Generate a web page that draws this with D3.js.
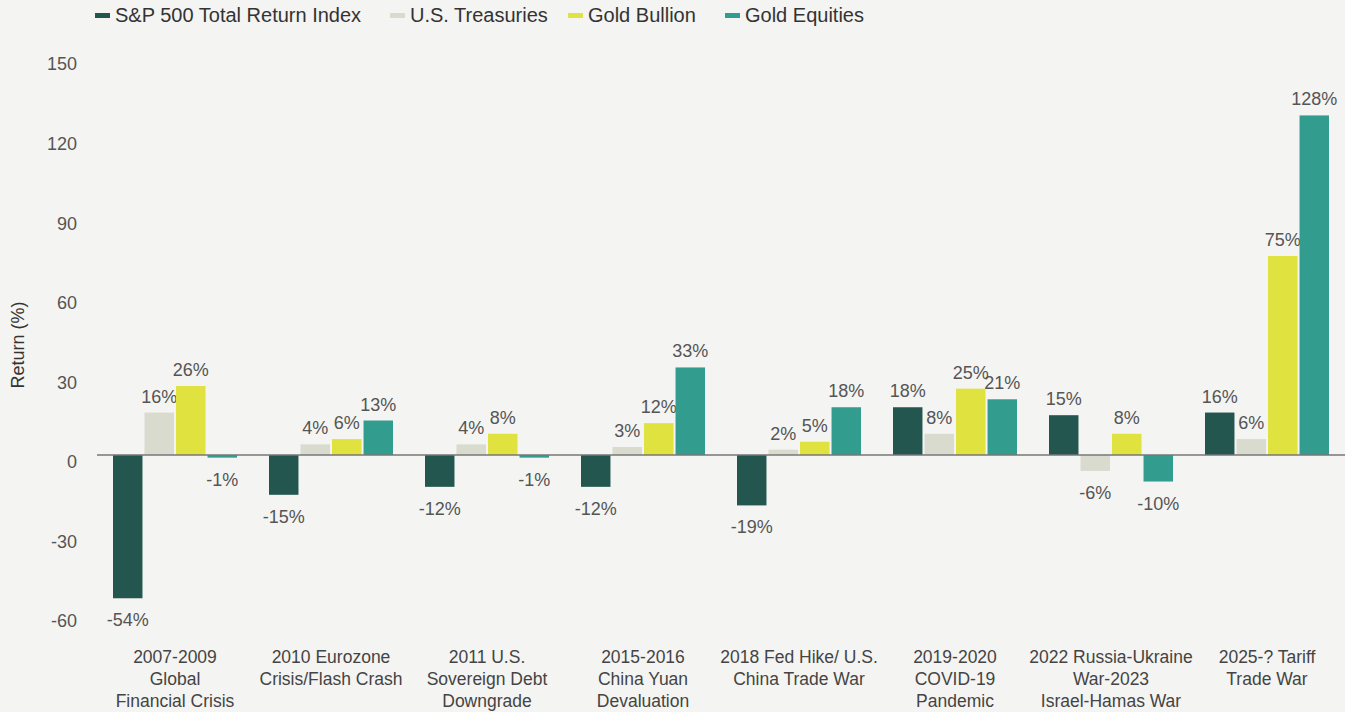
<!DOCTYPE html>
<html><head><meta charset="utf-8">
<script src="https://cdn.jsdelivr.net/npm/d3@7"></script>
<style>
html,body{margin:0;padding:0;background:#f4f4f2;}
svg{display:block;font-family:"Liberation Sans","Arial",sans-serif;}
</style></head>
<body><svg id="c" width="1345" height="712"></svg>
<script>
const categories = [
  ["2007-2009","Global","Financial Crisis"],
  ["2010 Eurozone","Crisis/Flash Crash"],
  ["2011 U.S.","Sovereign Debt","Downgrade"],
  ["2015-2016","China Yuan","Devaluation"],
  ["2018 Fed Hike/ U.S.","China Trade War"],
  ["2019-2020","COVID-19","Pandemic"],
  ["2022 Russia-Ukraine","War-2023","Israel-Hamas War"],
  ["2025-? Tariff","Trade War"]
];
const seriesNames = ["S&P 500 Total Return Index","U.S. Treasuries","Gold Bullion","Gold Equities"];
const sp500 = [-54,-15,-12,-12,-19,18,15,16];
const treasuries = [16,4,4,3,2,8,-6,6];
const goldBullion = [26,6,8,12,5,25,8,75];
const goldEquities = [-1,13,-1,33,18,21,-10,128];
const yTicks = [-60,-30,0,30,60,90,120,150];
const colors = ["#22564f","#d9dbcf","#dfe23f","#329c8f"];

const series = [sp500,treasuries,goldBullion,goldEquities];
const svg = d3.select("#c");
const left = 97, right = 1345;
const yScale = d3.scaleLinear().domain([-60,150]).range([455+60*2.653, 455-150*2.653]);
const x0 = d3.scaleBand().domain(d3.range(categories.length)).range([left,right]).paddingInner(0).paddingOuter(0);
const x1 = d3.scaleBand().domain(d3.range(4)).range([0,124]).paddingInner(0.065);
const groupOffset = (x0.bandwidth()-124)/2;

// y tick labels
svg.append("g").selectAll("text").data(yTicks).join("text")
  .attr("x",77).attr("y",d=>yScale(d)+7).attr("dy","0.35em")
  .attr("text-anchor","end").attr("font-size",18).attr("fill","#555")
  .text(d=>d);

svg.append("text").attr("transform","translate(24,345) rotate(-90)")
  .attr("text-anchor","middle").attr("font-size",18).attr("fill","#333").text("Return (%)");

const g = svg.append("g");
categories.forEach((cat,i)=>{
  const gx = x0(i)+groupOffset;
  series.forEach((s,j)=>{
    const v = s[i];
    const bx = gx + x1(j);
    g.append("rect").attr("x",bx).attr("width",x1.bandwidth())
      .attr("y",yScale(Math.max(0,v))).attr("height",Math.abs(yScale(v)-yScale(0)))
      .attr("fill",colors[j]);
    g.append("text").attr("x",bx+x1.bandwidth()/2)
      .attr("y", v>=0 ? yScale(v)-10 : yScale(v)+28)
      .attr("text-anchor","middle").attr("font-size",18).attr("fill","#555")
      .text(v+"%");
  });
  const t = svg.append("text").attr("text-anchor","middle").attr("font-size",17.5).attr("fill","#444");
  cat.forEach((line,k)=>{
    t.append("tspan").attr("x",x0(i)+x0.bandwidth()/2).attr("y",663+k*22).text(line);
  });
});

// zero line
svg.append("line").attr("x1",left).attr("x2",right).attr("y1",yScale(0)).attr("y2",yScale(0))
  .attr("stroke","#777").attr("stroke-width",1.5);

// legend
const legX = [95,390,568,725];
seriesNames.forEach((n,j)=>{
  svg.append("rect").attr("x",legX[j]).attr("y",13).attr("width",15).attr("height",5).attr("fill",colors[j]);
  svg.append("text").attr("x",legX[j]+20).attr("y",15).attr("dy","0.35em")
    .attr("font-size",20).attr("fill","#333").text(n);
});
</script></body></html>
